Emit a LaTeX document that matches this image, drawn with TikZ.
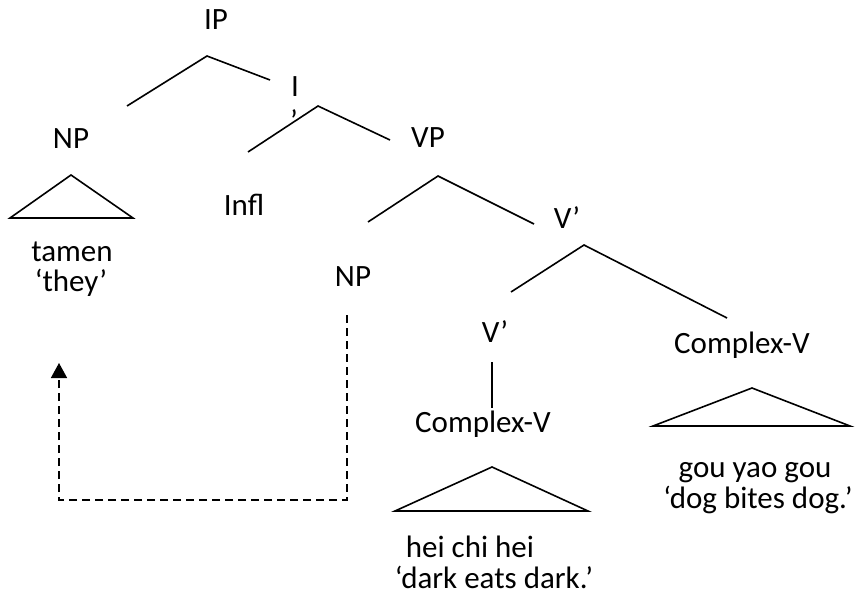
\documentclass[tikz,border=0pt]{standalone}
\usepackage{fontspec}
\setmainfont{Carlito}
\usetikzlibrary{arrows.meta}
\begin{document}
\begin{tikzpicture}[x=1pt,y=-1pt,
  lbl/.style={inner sep=0pt, anchor=base, font=\fontsize{31}{37}\selectfont},
  branch/.style={line width=1.6pt, line cap=butt},
  roof/.style={line width=1.6pt, line join=miter},
  move/.style={line width=1.6pt, dash pattern=on 8pt off 5pt, -{Triangle[width=16pt,length=15pt]}}]
\useasboundingbox (0,0) rectangle (855,597);
% labels
\node[lbl] (ip) at (216,30) {IP};
\node[lbl] (ibar) at (295,96) {I};
\node[lbl] (ibarp) at (294,131) {’};
\node[lbl] (np1) at (71,148) {NP};
\node[lbl] (tamen) at (72,261) {tamen};
\node[lbl] (they) at (71,291) {‘they’};
\node[lbl] (infl) at (244,215) {Infl};
\node[lbl] (vp) at (428,147) {VP};
\node[lbl] (vbar1) at (567,228) {V’};
\node[lbl] (np2) at (353,286) {NP};
\node[lbl] (vbar2) at (495,342) {V’};
\node[lbl] (cv1) at (483,432) {Complex-V};
\node[lbl] (cv2) at (742,353) {Complex-V};
\node[lbl] (hei) at (470,557) {hei chi hei};
\node[lbl] (dark) at (494,588) {‘dark eats dark.’};
\node[lbl] (gou) at (755,477) {gou yao gou};
\node[lbl] (dog) at (758,508) {‘dog bites dog.’};
% branch points
\coordinate (ipA) at (207,56);
\coordinate (ipL) at (127,106);
\coordinate (ipR) at (270,80);
\coordinate (ibA) at (318,106);
\coordinate (ibL) at (248,152);
\coordinate (ibR) at (390,140);
\coordinate (vpA) at (438,176);
\coordinate (vpL) at (368,222);
\coordinate (vpR) at (534,224);
\coordinate (v1A) at (584,245);
\coordinate (v1L) at (511,292);
\coordinate (v1R) at (727,318);
\coordinate (v2T) at (492,362);
\coordinate (v2B) at (492,408);
% roofs
\coordinate (r1A) at (71,175);
\coordinate (r1L) at (10,218);
\coordinate (r1R) at (133,218);
\coordinate (r2A) at (492,467);
\coordinate (r2L) at (395,511);
\coordinate (r2R) at (588,511);
\coordinate (r3A) at (752,388);
\coordinate (r3L) at (653,426);
\coordinate (r3R) at (850,426);
% movement path
\coordinate (mTop) at (347,315);
\coordinate (mC1) at (347,500);
\coordinate (mC2) at (59,500);
\coordinate (mEnd) at (59,363);
% tree lines
\draw[branch] (ipL) -- (ipA) -- (ipR);
\draw[branch] (ibL) -- (ibA) -- (ibR);
\draw[branch] (vpL) -- (vpA) -- (vpR);
\draw[branch] (v1L) -- (v1A) -- (v1R);
\draw[branch] (v2T) -- (v2B);
\draw[roof] (r1A) -- (r1L) -- (r1R) -- cycle;
\draw[roof] (r2A) -- (r2L) -- (r2R) -- cycle;
\draw[roof] (r3A) -- (r3L) -- (r3R) -- cycle;
\draw[move] (mTop) -- (mC1) -- (mC2) -- (mEnd);
\end{tikzpicture}
\end{document}
